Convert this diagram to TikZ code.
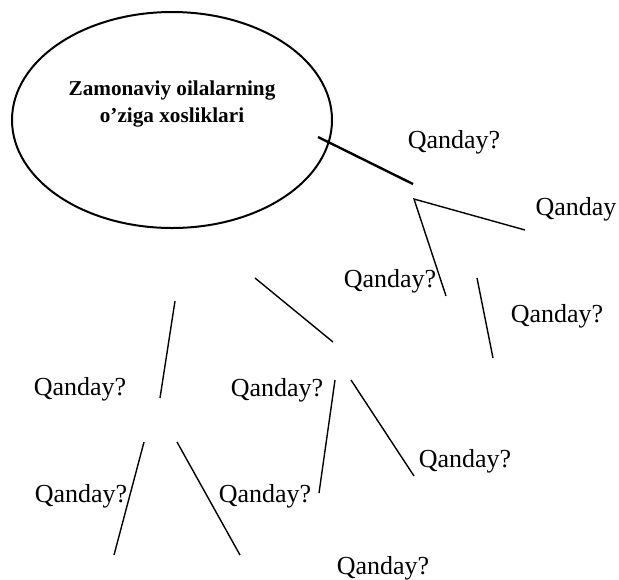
\documentclass[tikz,border=0pt]{standalone}
\usepackage{fontspec}
\setmainfont{Liberation Serif}
\usetikzlibrary{shapes.geometric}
\tikzset{
  oval/.style={draw, ellipse, line width=1pt, minimum width=160pt, minimum height=108pt, inner sep=0pt},
  title/.style={font=\bfseries\fontsize{10.6}{13.5}\selectfont, align=center, inner sep=0pt},
  ask/.style={font=\fontsize{13}{15}\selectfont, inner sep=0pt},
  link/.style={draw, line width=1.2pt},
  stroke/.style={draw, line width=0.7pt},
}

\begin{document}
\begin{tikzpicture}[x=0.5pt,y=-0.5pt]
  \useasboundingbox (0,0) rectangle (619,579);
  % main oval
  \node[oval] (oval) at (172,120) {};
  \node[title] (title) at (172,104) {Zamonaviy oilalarning\\o'ziga xosliklari};
  % labels
  \node[ask] (q1) at (454,142) {Qanday?};
  \node[ask] (q2) at (576,209) {Qanday};
  \node[ask] (q3) at (390,281) {Qanday?};
  \node[ask] (q4) at (557,316) {Qanday?};
  \node[ask] (q5) at (80,389) {Qanday?};
  \node[ask] (q6) at (277,390) {Qanday?};
  \node[ask] (q7) at (465,461) {Qanday?};
  \node[ask] (q8) at (81,496) {Qanday?};
  \node[ask] (q9) at (265,496) {Qanday?};
  \node[ask] (q10) at (383,568) {Qanday?};
  % line ends
  \coordinate (a1) at (318,137);
  \coordinate (a2) at (413,184);
  \coordinate (f0) at (414,199);
  \coordinate (f1) at (525,230);
  \coordinate (f2) at (446,296);
  \coordinate (b1) at (477,278);
  \coordinate (b2) at (493,358);
  \coordinate (c1) at (255,278);
  \coordinate (c2) at (333,342);
  \coordinate (d1) at (175,301);
  \coordinate (d2) at (160,398);
  \coordinate (e1) at (144,442);
  \coordinate (e2) at (114,555);
  \coordinate (g1) at (177,442);
  \coordinate (g2) at (240,555);
  \coordinate (h1) at (335,380);
  \coordinate (h2) at (319,493);
  \coordinate (k1) at (351,380);
  \coordinate (k2) at (414,476);
  % lines
  \draw[link] (a1) -- (a2);
  \draw[stroke] (f1) -- (f0) -- (f2);
  \draw[stroke] (b1) -- (b2);
  \draw[stroke] (c1) -- (c2);
  \draw[stroke] (d1) -- (d2);
  \draw[stroke] (e1) -- (e2);
  \draw[stroke] (g1) -- (g2);
  \draw[stroke] (h1) -- (h2);
  \draw[stroke] (k1) -- (k2);
\end{tikzpicture}
\end{document}
